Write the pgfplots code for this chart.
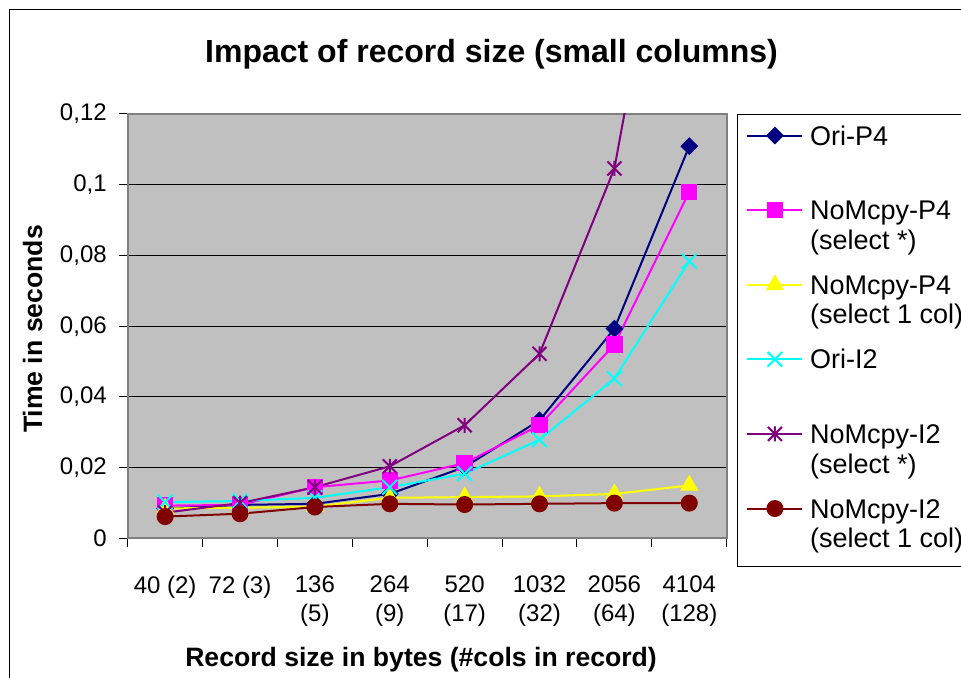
\documentclass[border=0pt]{standalone}
\usepackage{pgfplots}
\pgfplotsset{compat=1.18}
\usepackage{fontspec}
\setmainfont{Liberation Sans}
\definecolor{cnavy}{RGB}{0,0,128}
\definecolor{cmag}{RGB}{255,0,255}
\definecolor{cyel}{RGB}{255,255,0}
\definecolor{ccyan}{RGB}{0,255,255}
\definecolor{cpurp}{RGB}{128,0,128}
\definecolor{cdred}{RGB}{128,0,0}
\definecolor{plotgray}{RGB}{192,192,192}
\definecolor{framegray}{RGB}{128,128,128}
\pgfdeclareplotmark{xstar}{%
  \pgfpathmoveto{\pgfqpoint{-0.93\pgfplotmarksize}{-0.93\pgfplotmarksize}}%
  \pgfpathlineto{\pgfqpoint{0.93\pgfplotmarksize}{0.93\pgfplotmarksize}}%
  \pgfpathmoveto{\pgfqpoint{-0.93\pgfplotmarksize}{0.93\pgfplotmarksize}}%
  \pgfpathlineto{\pgfqpoint{0.93\pgfplotmarksize}{-0.93\pgfplotmarksize}}%
  \pgfpathmoveto{\pgfqpoint{0pt}{-\pgfplotmarksize}}%
  \pgfpathlineto{\pgfqpoint{0pt}{\pgfplotmarksize}}%
  \pgfusepathqstroke}

\begin{document}
\begin{tikzpicture}
\useasboundingbox (0,0) rectangle (480.5pt,339pt);
\draw[black, line width=0.5pt] (4.5pt,-5pt) -- (4.5pt,334.15pt) -- (490pt,334.15pt);
\begin{axis}[
  at={(63.85pt,69.75pt)}, anchor=south west,
  scale only axis, width=299.5pt, height=212.25pt,
  xmin=-0.5, xmax=7.5, ymin=0, ymax=0.12,
  axis background/.style={fill=plotgray},
  axis line style={framegray, line width=1pt},
  tick align=outside,
  major tick length=4.3pt,
  tick style={black, line width=0.5pt},
  xtick pos=left, ytick pos=left,
  ytick={0,0.02,0.04,0.06,0.08,0.1,0.12},
  yticklabels={0,{0,02},{0,04},{0,06},{0,08},{0,1},{0,12}},
  ymajorgrids,
  major grid style={black, line width=0.5pt},
  xtick={-0.5,0.5,1.5,2.5,3.5,4.5,5.5,6.5,7.5},
  xticklabels={},
  extra x ticks={0,1,2,3,4,5,6,7},
  extra x tick labels={40 (2),72 (3),{136\\(5)},{264\\(9)},{520\\(17)},{1032\\(32)},{2056\\(64)},{4104\\(128)}},
  extra x tick style={major tick length=0pt, grid=none},
  ticklabel style={font=\fontsize{12}{14.5}\selectfont},
  xticklabel style={align=center, anchor=north, inner sep=0pt, yshift=-18.5pt},
  yticklabel style={anchor=east, inner sep=0pt, xshift=-6pt},
  title={Impact of record size (small columns)},
  title style={font=\bfseries\fontsize{16}{19}\selectfont, at={(rel axis cs:0.6074,1.113)}, anchor=center, yshift=0pt},
  xlabel={Record size in bytes (\#cols in record)},
  xlabel style={font=\bfseries\fontsize{13.3}{16}\selectfont, at={(rel axis cs:0.4897,0)}, anchor=center, yshift=-60.75pt},
  ylabel={Time in seconds},
  ylabel style={font=\bfseries\fontsize{13.3}{16}\selectfont, at={(rel axis cs:-0.1589,0.4935)}, anchor=center},
  legend image code/.code={
    \draw[mark repeat=2, mark phase=2, #1] plot coordinates {(0pt,19.6pt) (13.75pt,19.6pt) (27.5pt,19.6pt)};
  },
  legend cell align=left,
  legend style={at={(rel axis cs:1.0167,1)}, anchor=north west, draw=black, fill=white,
    inner xsep=4.65pt, inner ysep=5pt, row sep=7.7pt, column sep=3.35pt,
    font=\fontsize{13.5}{14.8}\selectfont,
    nodes={inner sep=0pt, text depth=},
    cells={anchor=base west, align=left}},
]
\addplot[cnavy, line width=1pt, mark=square*, mark size=2.65pt, mark options={rotate=45, fill=cnavy, solid}]
  coordinates {(0,0.0085) (1,0.0095) (2,0.0098) (3,0.0126) (4,0.0202) (5,0.0334) (6,0.0593) (7,0.1109)};
\addlegendentry{\strut Ori-P4\\\strut}
\addplot[cmag, line width=1pt, mark=square*, mark size=3.6pt, mark options={fill=cmag, solid}]
  coordinates {(0,0.0093) (1,0.0095) (2,0.0145) (3,0.0164) (4,0.0213) (5,0.0320) (6,0.0548) (7,0.0980)};
\addlegendentry{\strut NoMcpy-P4\\\strut(select *)}
\addplot[cyel, line width=1pt, mark=triangle*, mark size=4.3pt, mark options={fill=cyel, solid}]
  coordinates {(0,0.0085) (1,0.0087) (2,0.0090) (3,0.0115) (4,0.0117) (5,0.0119) (6,0.0126) (7,0.0150)};
\addlegendentry{\strut NoMcpy-P4\\\strut(select 1 col)}
\addplot[ccyan, line width=1pt, mark=x, mark size=5.2pt, mark options={solid}]
  coordinates {(0,0.0103) (1,0.0106) (2,0.0115) (3,0.0145) (4,0.0183) (5,0.0279) (6,0.0452) (7,0.0784)};
\addlegendentry{\strut Ori-I2\\\strut}
\addplot[cpurp, line width=1pt, mark=xstar, mark size=3.75pt, mark options={solid}]
  coordinates {(0,0.0073) (1,0.0100) (2,0.0145) (3,0.0204) (4,0.0320) (5,0.0522) (6,0.1046) (7,0.22)};
\addlegendentry{\strut NoMcpy-I2\\\strut(select *)}
\addplot[cdred, line width=1pt, mark=*, mark size=3.75pt, mark options={fill=cdred, solid}]
  coordinates {(0,0.0062) (1,0.0070) (2,0.0089) (3,0.0098) (4,0.0096) (5,0.0098) (6,0.0100) (7,0.0100)};
\addlegendentry{\strut NoMcpy-I2\\\strut(select 1 col)\hspace*{8pt}}
\end{axis}
\end{tikzpicture}
\end{document}
